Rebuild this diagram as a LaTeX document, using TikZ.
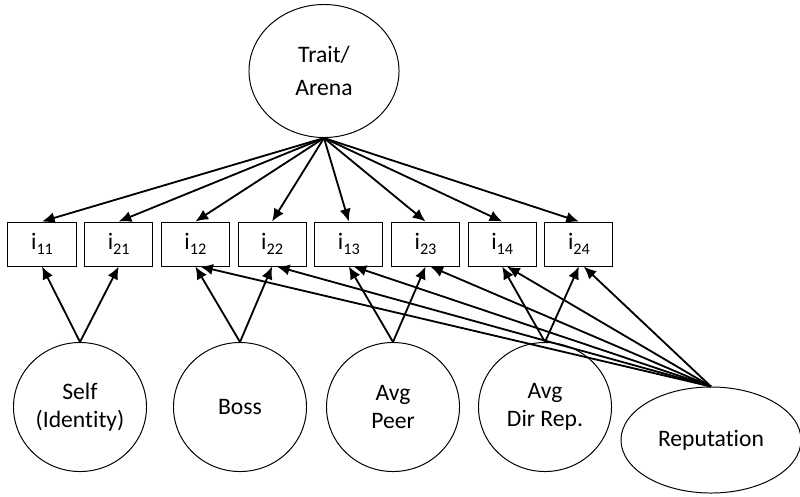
\documentclass[tikz,border=0pt]{standalone}
\usepackage{fontspec}
\setmainfont{Carlito}[Ligatures=NoCommon]
\usetikzlibrary{arrows.meta,shapes.geometric}
\tikzset{
	every picture/.style={font=\fontsize{16.8}{20}\selectfont,},
	lw/.style={line width=1.3pt,},
	%%%
	latent/.style={draw, ellipse, line width=0.7pt, inner sep=0pt, align=center},
	circ/.style={latent, minimum width=3.325cm, minimum height=3.225cm},
	item/.style={draw, rectangle, line width=0.7pt, minimum width=1.7cm, minimum height=1.1cm, inner sep=0pt},
	%%%
	load/.style={lw, -{Latex[length=9pt, width=8pt]}},
}
\newcommand{\isub}[1]{i\raisebox{-3.6pt}{\fontsize{11.5}{12}\selectfont #1}}

\begin{document}
\begin{tikzpicture}[x=0.025cm, y=-0.025cm]

	\useasboundingbox (0,0) rectangle (800,496);

	%%% Trait and items

	\node[latent, minimum width=3.75cm, minimum height=3.325cm] (trait) at (324,71) {Trait/\\[3pt]Arena};

	\foreach \lab [count=\k] in {11,21,12,22,13,23,14,24}
		\node[item] (i\lab) at ({42+76.7*(\k-1)},244) {\isub{\lab}};

	%%% Methods

	\node[circ] (self) at (80,407) {Self\\(Identity)};
	\node[circ] (boss) at (240,407) {Boss};
	\node[circ] (peer) at (393,407) {Avg\\Peer};
	\node[circ] (dirrep) at (545,407) {Avg\\Dir Rep.};
	\node[latent, minimum width=4.5cm, minimum height=2.65cm] (rep) at (711,440) {Reputation};

	%%% Loadings

	\foreach \lab in {11,21,12,22,13,23,14,24}
		\draw[load] (trait.south) -- (i\lab.north);

	\draw[load] (self.north) -- (i11.south);
	\draw[load] (self.north) -- (i21.south);
	\draw[load] (boss.north) -- (i12.south);
	\draw[load] (boss.north) -- (i22.south);
	\draw[load] (peer.north) -- (i13.south);
	\draw[load] (peer.north) -- (i23.south);
	\draw[load] (dirrep.north) -- (i14.south);
	\draw[load] (dirrep.north) -- (i24.south);

	\foreach \lab in {12,22,13,23,14,24}
		\draw[load] (rep.north) -- ([xshift=0.12cm]i\lab.south);

\end{tikzpicture}
\end{document}
